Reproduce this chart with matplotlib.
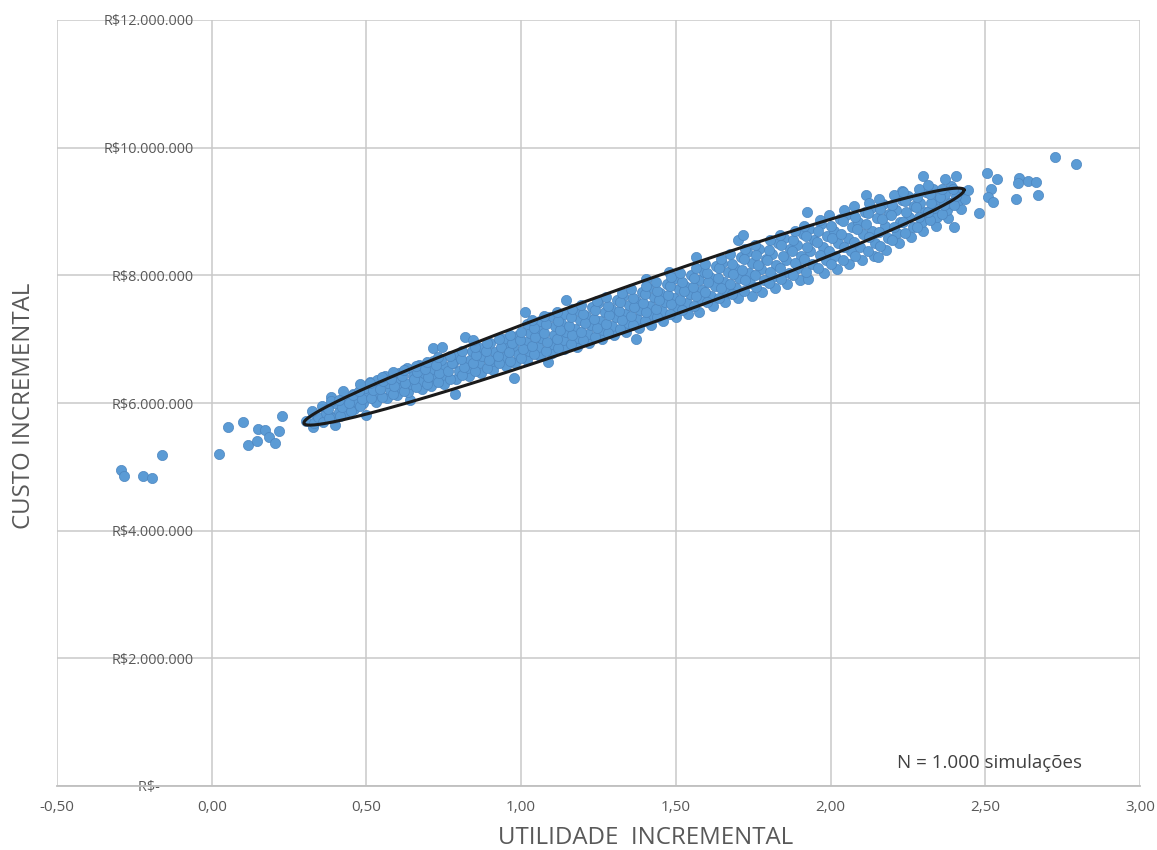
import numpy as np
import matplotlib
matplotlib.use('Agg')
import matplotlib.pyplot as plt
from matplotlib.ticker import FuncFormatter

# Incremental utility (x) and incremental cost in R$ millions (y)
left_tail = [(-0.293, 4.95), (-0.284, 4.86), (-0.222, 4.86), (-0.193, 4.83), (-0.16, 5.19),
             (0.025, 5.20), (0.053, 5.62), (0.10, 5.71), (0.116, 5.34), (0.146, 5.40),
             (0.149, 5.60), (0.173, 5.58), (0.184, 5.46), (0.206, 5.37), (0.217, 5.56),
             (0.227, 5.80), (0.305, 5.72), (0.328, 5.84), (0.328, 5.62), (0.382, 5.79),
             (0.40, 5.65)]

band_points = [
    (0.33, 5.68), (0.345, 5.78), (0.325, 5.88),
    (0.36, 5.70), (0.37, 5.84), (0.355, 5.95),
    (0.395, 5.76), (0.41, 5.86), (0.40, 6.00), (0.385, 6.10),
    (0.43, 5.85), (0.44, 5.98), (0.425, 6.08), (0.425, 6.19),
    (0.46, 5.90), (0.47, 6.02), (0.455, 6.14),
    (0.50, 5.81), (0.49, 6.00), (0.505, 6.12), (0.495, 6.24), (0.51, 6.33),
    (0.53, 6.02), (0.54, 6.15), (0.525, 6.28), (0.535, 6.36),
    (0.565, 6.08), (0.575, 6.20), (0.57, 6.32), (0.56, 6.43),
    (0.60, 6.12), (0.61, 6.25), (0.595, 6.38), (0.605, 6.47),
    (0.64, 6.05), (0.635, 6.18), (0.645, 6.30), (0.65, 6.42), (0.63, 6.55),
    (0.68, 6.22), (0.675, 6.35), (0.685, 6.47), (0.67, 6.60),
    (0.71, 6.26), (0.72, 6.40), (0.705, 6.52), (0.715, 6.66), (0.715, 6.86),
    (0.75, 6.30), (0.745, 6.44), (0.755, 6.56), (0.74, 6.68), (0.743, 6.88),
    (0.785, 6.14), (0.79, 6.38), (0.80, 6.50), (0.78, 6.62), (0.795, 6.75),
    (0.83, 6.42), (0.825, 6.55), (0.835, 6.68), (0.84, 6.82), (0.82, 7.04),
    (0.87, 6.47), (0.865, 6.62), (0.875, 6.74), (0.86, 6.88),
    (0.91, 6.52), (0.905, 6.66), (0.915, 6.80), (0.90, 6.94),
    (0.95, 6.58), (0.945, 6.72), (0.955, 6.86), (0.94, 7.00),
    (0.976, 6.39), (0.98, 6.62), (0.99, 6.76), (0.975, 6.90), (0.985, 7.05),
    (1.011, 7.43), (1.02, 6.68), (1.025, 6.82), (1.015, 6.96), (1.03, 7.10), (1.02, 7.24),
    (1.086, 6.65), (1.06, 6.74), (1.055, 6.88), (1.065, 7.02), (1.05, 7.16), (1.06, 7.28),
    (1.10, 6.78), (1.095, 6.92), (1.105, 7.06), (1.11, 7.20), (1.09, 7.34),
    (1.14, 6.84), (1.135, 6.98), (1.145, 7.12), (1.13, 7.26), (1.14, 7.40), (1.146, 7.61),
    (1.18, 6.88), (1.185, 7.02), (1.175, 7.16), (1.19, 7.30), (1.17, 7.44),
    (1.22, 6.94), (1.215, 7.08), (1.225, 7.22), (1.21, 7.36), (1.23, 7.50),
    (1.26, 7.00), (1.265, 7.14), (1.255, 7.28), (1.27, 7.42), (1.25, 7.56),
    (1.30, 7.06), (1.295, 7.20), (1.305, 7.34), (1.29, 7.48), (1.31, 7.62),
    (1.34, 7.12), (1.345, 7.26), (1.335, 7.40), (1.35, 7.54), (1.33, 7.68),
    (1.372, 7.01), (1.38, 7.18), (1.375, 7.32), (1.385, 7.46), (1.37, 7.60), (1.39, 7.74), (1.402, 7.94),
    (1.42, 7.22), (1.425, 7.38), (1.415, 7.52), (1.43, 7.66), (1.41, 7.80),
    (1.46, 7.28), (1.455, 7.44), (1.465, 7.58), (1.45, 7.72), (1.47, 7.86),
    (1.50, 7.34), (1.505, 7.50), (1.495, 7.64), (1.51, 7.78), (1.49, 7.94), (1.479, 8.06),
    (1.54, 7.40), (1.535, 7.56), (1.545, 7.70), (1.53, 7.84), (1.55, 8.00),
    (1.576, 7.43), (1.58, 7.62), (1.585, 7.77), (1.575, 7.92), (1.59, 8.06), (1.565, 8.29),
    (1.62, 7.52), (1.615, 7.68), (1.625, 7.84), (1.61, 7.98), (1.63, 8.14),
    (1.66, 7.58), (1.665, 7.74), (1.655, 7.90), (1.67, 8.05), (1.65, 8.20),
    (1.70, 7.64), (1.695, 7.80), (1.705, 7.96), (1.69, 8.12), (1.71, 8.28), (1.70, 8.55),
    (1.747, 7.68), (1.74, 7.88), (1.735, 8.04), (1.745, 8.20), (1.73, 8.36), (1.716, 8.63),
    (1.78, 7.74), (1.785, 7.92), (1.775, 8.10), (1.79, 8.26), (1.77, 8.42),
    (1.82, 7.80), (1.815, 7.98), (1.825, 8.16), (1.81, 8.34), (1.83, 8.50),
    (1.86, 7.86), (1.865, 8.04), (1.855, 8.24), (1.87, 8.42), (1.85, 8.58),
    (1.90, 7.92), (1.895, 8.12), (1.905, 8.30), (1.89, 8.48), (1.91, 8.64),
    (1.928, 7.95), (1.94, 8.18), (1.935, 8.38), (1.945, 8.56), (1.93, 8.72), (1.925, 9.00),
    (1.98, 8.04), (1.985, 8.24), (1.975, 8.44), (1.99, 8.62), (1.97, 8.80),
    (2.02, 8.10), (2.015, 8.30), (2.025, 8.50), (2.01, 8.70), (2.03, 8.88),
    (2.06, 8.18), (2.065, 8.38), (2.055, 8.58), (2.07, 8.76), (2.05, 8.94),
    (2.10, 8.24), (2.095, 8.44), (2.105, 8.64), (2.09, 8.84), (2.11, 9.00),
    (2.14, 8.30), (2.145, 8.50), (2.135, 8.70), (2.15, 8.90), (2.13, 9.06), (2.114, 9.26),
    (2.154, 8.29), (2.18, 8.40), (2.185, 8.58), (2.175, 8.78), (2.19, 8.96), (2.17, 9.12),
    (2.22, 8.50), (2.215, 8.66), (2.225, 8.84), (2.21, 9.02), (2.23, 9.18), (2.23, 9.32),
    (2.26, 8.60), (2.265, 8.76), (2.255, 8.92), (2.27, 9.08), (2.25, 9.24),
    (2.30, 8.70), (2.295, 8.84), (2.305, 9.00), (2.29, 9.14), (2.31, 9.30), (2.298, 9.55),
    (2.34, 8.78), (2.345, 8.92), (2.335, 9.06), (2.35, 9.20), (2.33, 9.36),
    (2.40, 8.76), (2.38, 8.90), (2.375, 9.02), (2.385, 9.14), (2.37, 9.28), (2.39, 9.40),
    (2.37, 9.51), (2.404, 9.55),
    (2.42, 9.04), (2.415, 9.18), (2.425, 9.30), (2.436, 9.20), (2.445, 9.33),
]

# the dense middle of the cloud, between the points above
band_fill = [
    (0.38, 5.77), (0.375, 5.91), (0.385, 6.03),
    (0.415, 5.80), (0.42, 5.93), (0.41, 6.05),
    (0.45, 5.88), (0.445, 6.00), (0.455, 6.12),
    (0.48, 5.95), (0.485, 6.07), (0.475, 6.19), (0.48, 6.29),
    (0.515, 6.08), (0.52, 6.20), (0.51, 6.31),
    (0.55, 6.10), (0.545, 6.22), (0.555, 6.34), (0.55, 6.41),
    (0.585, 6.14), (0.59, 6.26), (0.58, 6.38), (0.585, 6.48),
    (0.62, 6.19), (0.625, 6.31), (0.615, 6.43), (0.62, 6.52),
    (0.66, 6.25), (0.655, 6.37), (0.665, 6.49), (0.66, 6.58),
    (0.695, 6.29), (0.70, 6.41), (0.69, 6.53), (0.695, 6.64),
    (0.73, 6.33), (0.735, 6.47), (0.725, 6.60), (0.73, 6.72),
    (0.77, 6.37), (0.765, 6.50), (0.775, 6.62), (0.77, 6.74),
    (0.81, 6.44), (0.815, 6.56), (0.805, 6.69), (0.81, 6.82),
    (0.85, 6.50), (0.845, 6.62), (0.855, 6.75), (0.85, 6.88), (0.845, 6.98),
    (0.89, 6.55), (0.895, 6.68), (0.885, 6.81), (0.89, 6.94),
    (0.93, 6.62), (0.925, 6.74), (0.935, 6.87), (0.93, 7.00),
    (0.965, 6.66), (0.96, 6.80), (0.97, 6.94), (0.965, 7.06),
    (1.00, 6.70), (1.005, 6.84), (0.995, 6.98), (1.00, 7.12),
    (1.04, 6.76), (1.035, 6.90), (1.045, 7.04), (1.04, 7.18), (1.035, 7.30),
    (1.08, 6.82), (1.085, 6.96), (1.075, 7.10), (1.08, 7.24), (1.075, 7.36),
    (1.12, 6.86), (1.115, 7.00), (1.125, 7.14), (1.12, 7.28), (1.115, 7.42),
    (1.16, 6.92), (1.165, 7.06), (1.155, 7.20), (1.16, 7.34), (1.165, 7.48),
    (1.20, 6.98), (1.195, 7.12), (1.205, 7.26), (1.20, 7.40), (1.195, 7.54),
    (1.24, 7.04), (1.245, 7.18), (1.235, 7.32), (1.24, 7.46), (1.245, 7.60),
    (1.28, 7.10), (1.275, 7.24), (1.285, 7.38), (1.28, 7.52), (1.275, 7.66),
    (1.32, 7.16), (1.325, 7.30), (1.315, 7.44), (1.32, 7.58), (1.325, 7.72),
    (1.36, 7.22), (1.355, 7.36), (1.365, 7.50), (1.36, 7.64), (1.355, 7.78),
    (1.40, 7.28), (1.405, 7.42), (1.395, 7.56), (1.40, 7.70), (1.405, 7.84),
    (1.44, 7.34), (1.435, 7.48), (1.445, 7.62), (1.44, 7.76), (1.435, 7.90),
    (1.48, 7.40), (1.485, 7.55), (1.475, 7.69), (1.48, 7.83), (1.485, 7.97),
    (1.52, 7.46), (1.515, 7.61), (1.525, 7.75), (1.52, 7.89), (1.515, 8.04),
    (1.56, 7.52), (1.565, 7.67), (1.555, 7.82), (1.56, 7.96), (1.565, 8.12),
    (1.60, 7.58), (1.595, 7.74), (1.605, 7.89), (1.60, 8.04), (1.595, 8.18),
    (1.64, 7.64), (1.645, 7.80), (1.635, 7.96), (1.64, 8.11), (1.645, 8.26),
    (1.68, 7.70), (1.675, 7.86), (1.685, 8.02), (1.68, 8.18), (1.675, 8.33),
    (1.72, 7.76), (1.725, 7.93), (1.715, 8.09), (1.72, 8.25), (1.725, 8.41),
    (1.76, 7.82), (1.755, 8.00), (1.765, 8.16), (1.76, 8.32), (1.755, 8.48),
    (1.80, 7.88), (1.805, 8.06), (1.795, 8.24), (1.80, 8.40), (1.805, 8.56),
    (1.84, 7.94), (1.835, 8.12), (1.845, 8.31), (1.84, 8.48), (1.835, 8.63),
    (1.88, 8.00), (1.885, 8.19), (1.875, 8.38), (1.88, 8.55), (1.885, 8.70),
    (1.92, 8.06), (1.915, 8.26), (1.925, 8.45), (1.92, 8.62), (1.915, 8.78),
    (1.96, 8.12), (1.965, 8.32), (1.955, 8.52), (1.96, 8.70), (1.965, 8.86),
    (2.00, 8.18), (1.995, 8.38), (2.005, 8.58), (2.00, 8.78), (1.995, 8.94),
    (2.04, 8.24), (2.045, 8.45), (2.035, 8.65), (2.04, 8.85), (2.045, 9.02),
    (2.08, 8.30), (2.075, 8.52), (2.085, 8.72), (2.08, 8.92), (2.075, 9.08),
    (2.12, 8.38), (2.125, 8.60), (2.115, 8.80), (2.12, 8.98), (2.125, 9.14),
    (2.16, 8.46), (2.155, 8.68), (2.165, 8.88), (2.16, 9.04), (2.155, 9.20),
    (2.20, 8.56), (2.205, 8.75), (2.195, 8.94), (2.20, 9.10), (2.205, 9.26),
    (2.24, 8.66), (2.235, 8.84), (2.245, 9.00), (2.24, 9.16), (2.235, 9.30),
    (2.28, 8.76), (2.285, 8.92), (2.275, 9.07), (2.28, 9.22), (2.285, 9.36),
    (2.32, 8.86), (2.315, 9.00), (2.325, 9.14), (2.32, 9.28), (2.315, 9.42),
    (2.36, 8.96), (2.365, 9.10), (2.355, 9.22), (2.36, 9.36),
    (2.40, 9.10), (2.405, 9.24), (2.395, 9.35),
]

right_tail = [(2.479, 8.97), (2.504, 9.61), (2.537, 9.51), (2.518, 9.35), (2.509, 9.23),
              (2.524, 9.15), (2.608, 9.52), (2.606, 9.44), (2.638, 9.48), (2.664, 9.46),
              (2.60, 9.19), (2.67, 9.26), (2.724, 9.86), (2.793, 9.74)]

# confidence ellipse drawn by hand on the chart (centre, half major axis, half minor axis)
ell_center = (1.3645, 7.51)
ell_major = (1.0665, 1.83)
ell_minor = (0.0228, -0.313)

x_ticks = [-0.5, 0.0, 0.5, 1.0, 1.5, 2.0, 2.5, 3.0]
y_ticks = [0, 2, 4, 6, 8, 10, 12]

pts = np.array(left_tail + band_points + band_fill + right_tail)

fig = plt.figure(figsize=(11.57, 8.5), dpi=100)
ax = fig.add_axes([57 / 1157, 64 / 850, 1083 / 1157, 766 / 850])

grid_c = '#c9c9c9'
text_c = '#595959'

ax.scatter(pts[:, 0], pts[:, 1], s=54, color='#5b9bd5', edgecolors='#4d86c0',
           linewidths=0.5, zorder=3)

t = np.linspace(0, 2 * np.pi, 400)
ex = ell_center[0] + np.cos(t) * ell_major[0] + np.sin(t) * ell_minor[0]
ey = ell_center[1] + np.cos(t) * ell_major[1] + np.sin(t) * ell_minor[1]
ax.plot(ex, ey, color='#1a1a1a', lw=2.2, zorder=4)

ax.set_xlim(-0.5, 3.0)
ax.set_ylim(0, 12)
ax.set_xticks(x_ticks)
ax.set_yticks(y_ticks)
ax.xaxis.set_major_formatter(FuncFormatter(lambda v, p: f'{v:.2f}'.replace('.', ',')))


def money(v, p):
    if v == 0:
        return 'R$-' + ' ' * 9
    return f'R${int(v)}.000.000'


ax.yaxis.set_major_formatter(FuncFormatter(money))
ax.grid(True, color=grid_c, lw=1.1, zorder=0)
ax.set_axisbelow(True)

for side in ['top', 'right', 'left']:
    ax.spines[side].set_visible(False)
ax.spines['bottom'].set_color('#bfbfbf')
ax.spines['bottom'].set_linewidth(1.3)
ax.spines['left'].set_position(('data', 0))

ax.tick_params(axis='both', length=0, labelcolor=text_c)
ax.tick_params(axis='x', pad=10, labelsize=11)
ax.tick_params(axis='y', pad=13, labelsize=10.4)
for lab in ax.get_xticklabels() + ax.get_yticklabels():
    lab.set_fontfamily('Open Sans')

fig.text(646 / 1157, 1 - 838 / 850, 'UTILIDADE  INCREMENTAL', ha='center', va='center',
         fontsize=17.3, color=text_c, family='Open Sans')
fig.text(24 / 1157, 1 - 406 / 850, 'CUSTO INCREMENTAL', ha='center', va='center',
         rotation=90, fontsize=17.3, color=text_c, family='Open Sans')
ax.text(0.946, 0.018, 'N = 1.000 simulações', transform=ax.transAxes, ha='right',
        va='bottom', fontsize=13.5, color='#404040', family='Open Sans')

fig.savefig('out.png', dpi=100, facecolor='white')
